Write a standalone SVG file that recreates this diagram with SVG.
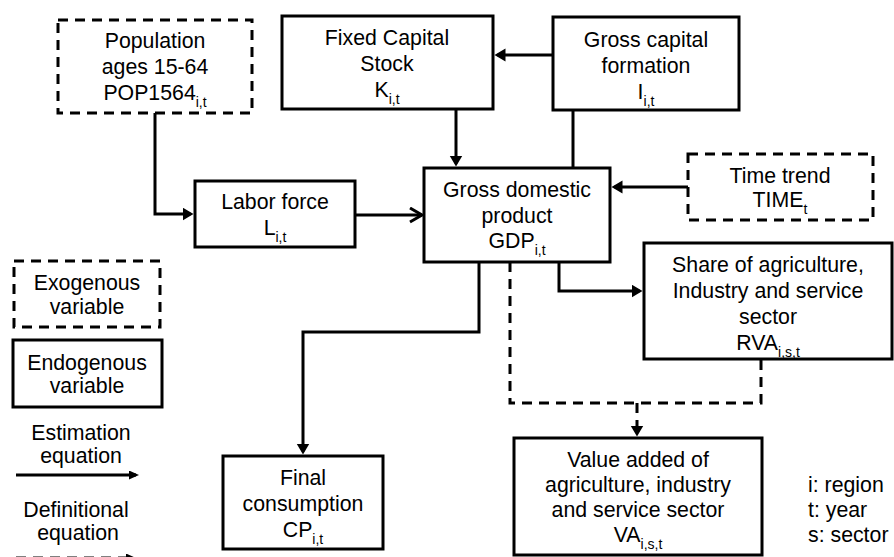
<svg xmlns="http://www.w3.org/2000/svg" width="894" height="557" viewBox="0 0 894 557">
<style>
text{font-family:"Liberation Sans",Arial,sans-serif;font-size:21.3px;fill:#000;text-anchor:middle}
.l{text-anchor:start}
.box{fill:#fff;stroke:#000;stroke-width:3}
.dbox{fill:#fff;stroke:#000;stroke-width:3;stroke-dasharray:10 7}
.c{fill:none;stroke:#000;stroke-width:3}
.d{fill:none;stroke:#000;stroke-width:3;stroke-dasharray:10 7}
.sub{font-size:14px}
</style>
<defs>
<marker id="arr" markerUnits="userSpaceOnUse" markerWidth="12" markerHeight="14" refX="8" refY="6.5" orient="auto">
<path d="M0,0 L11,6.5 L0,13 Z" fill="#000"/>
</marker>
<marker id="open" markerUnits="userSpaceOnUse" markerWidth="16" markerHeight="18" refX="13" refY="8" orient="auto">
<path d="M1,1 L13,8 L1,15" fill="none" stroke="#000" stroke-width="3"/>
</marker>
<marker id="arrS" markerUnits="userSpaceOnUse" markerWidth="11" markerHeight="10" refX="7" refY="4.5" orient="auto">
<path d="M0,0 L10,4.5 L0,9 Z" fill="#000"/>
</marker>
</defs>

<g id="connectors">
<path class="c" d="M553,55 H497.5" marker-end="url(#arr)"/>
<path class="c" d="M456,109 V163.5" marker-end="url(#arr)"/>
<path class="c" d="M573,110 V168"/>
<path class="c" d="M688,187 H614.5" marker-end="url(#arr)"/>
<path class="c" d="M155,113 V214 H190.5" marker-end="url(#arr)"/>
<path class="c" d="M355,215 H422" marker-end="url(#open)"/>
<path class="c" d="M479,262 V332 H303 V451.5" marker-end="url(#arr)"/>
<path class="c" d="M559,262 V291 H639.5" marker-end="url(#arr)"/>
<path class="d" d="M510,262 V403 H761 V360"/>
<path class="d" d="M637,403 V433.5" stroke-dasharray="none" marker-end="url(#arr)"/>
</g>

<g id="pop">
<rect class="dbox" x="58" y="20" width="194" height="93"/>
<text x="155" y="48">Population</text>
<text x="155" y="74">ages 15-64</text>
<text x="155" y="100">POP1564<tspan class="sub" dy="6.5">i,t</tspan></text>
</g>

<g id="fcs">
<rect class="box" x="282" y="16" width="211" height="93"/>
<text x="387" y="45">Fixed Capital</text>
<text x="387" y="71">Stock</text>
<text x="387" y="97">K<tspan class="sub" dy="6.5">i,t</tspan></text>
</g>

<g id="gcf">
<rect class="box" x="553" y="17" width="186" height="93"/>
<text x="646" y="47">Gross capital</text>
<text x="646" y="73">formation</text>
<text x="646" y="99">I<tspan class="sub" dy="6.5">i,t</tspan></text>
</g>

<g id="gdp">
<rect class="box" x="424" y="168" width="186" height="94"/>
<text x="517" y="197">Gross domestic</text>
<text x="517" y="223">product</text>
<text x="517" y="248">GDP<tspan class="sub" dy="6.5">i,t</tspan></text>
</g>

<g id="time">
<rect class="dbox" x="688" y="154" width="185" height="66"/>
<text x="780" y="183">Time trend</text>
<text x="780" y="207">TIME<tspan class="sub" dy="6.5">t</tspan></text>
</g>

<g id="labor">
<rect class="box" x="195" y="181" width="160" height="66"/>
<text x="275" y="209">Labor force</text>
<text x="275" y="235">L<tspan class="sub" dy="6.5">i,t</tspan></text>
</g>

<g id="rva">
<rect class="box" x="644" y="243" width="248" height="116"/>
<text x="768" y="272">Share of agriculture,</text>
<text x="768" y="298">Industry and service</text>
<text x="768" y="324">sector</text>
<text x="768" y="350">RVA<tspan class="sub" dy="6.5">i,s,t</tspan></text>
</g>

<g id="va">
<rect class="box" x="514" y="438" width="248" height="117"/>
<text x="638" y="467">Value added of</text>
<text x="638" y="492">agriculture, industry</text>
<text x="638" y="517">and service sector</text>
<text x="638" y="542">VA<tspan class="sub" dy="6.5">i,s,t</tspan></text>
</g>

<g id="fc">
<rect class="box" x="223" y="456" width="160" height="93"/>
<text x="303" y="485">Final</text>
<text x="303" y="511">consumption</text>
<text x="303" y="537">CP<tspan class="sub" dy="6.5">i,t</tspan></text>
</g>

<g id="index-legend">
<text class="l" x="808" y="492">i: region</text>
<text class="l" x="808" y="517">t: year</text>
<text class="l" x="808" y="542">s: sector</text>
</g>

<g id="legend-exo">
<rect class="dbox" x="14" y="261" width="146" height="66"/>
<text x="87" y="290">Exogenous</text>
<text x="87" y="314">variable</text>
</g>

<g id="legend-endo">
<rect class="box" x="13" y="340" width="149" height="67"/>
<text x="87" y="370">Endogenous</text>
<text x="87" y="393">variable</text>
</g>

<g id="legend-estimation">
<text x="81" y="440">Estimation</text>
<text x="81" y="463">equation</text>
<path class="c" d="M16,475 H136" marker-end="url(#arrS)"/>
</g>

<g id="legend-definitional">
<text x="76" y="517">Definitional</text>
<text x="78" y="540">equation</text>
<path class="d" d="M16,558 H133" marker-end="url(#arrS)"/>
</g>
</svg>
